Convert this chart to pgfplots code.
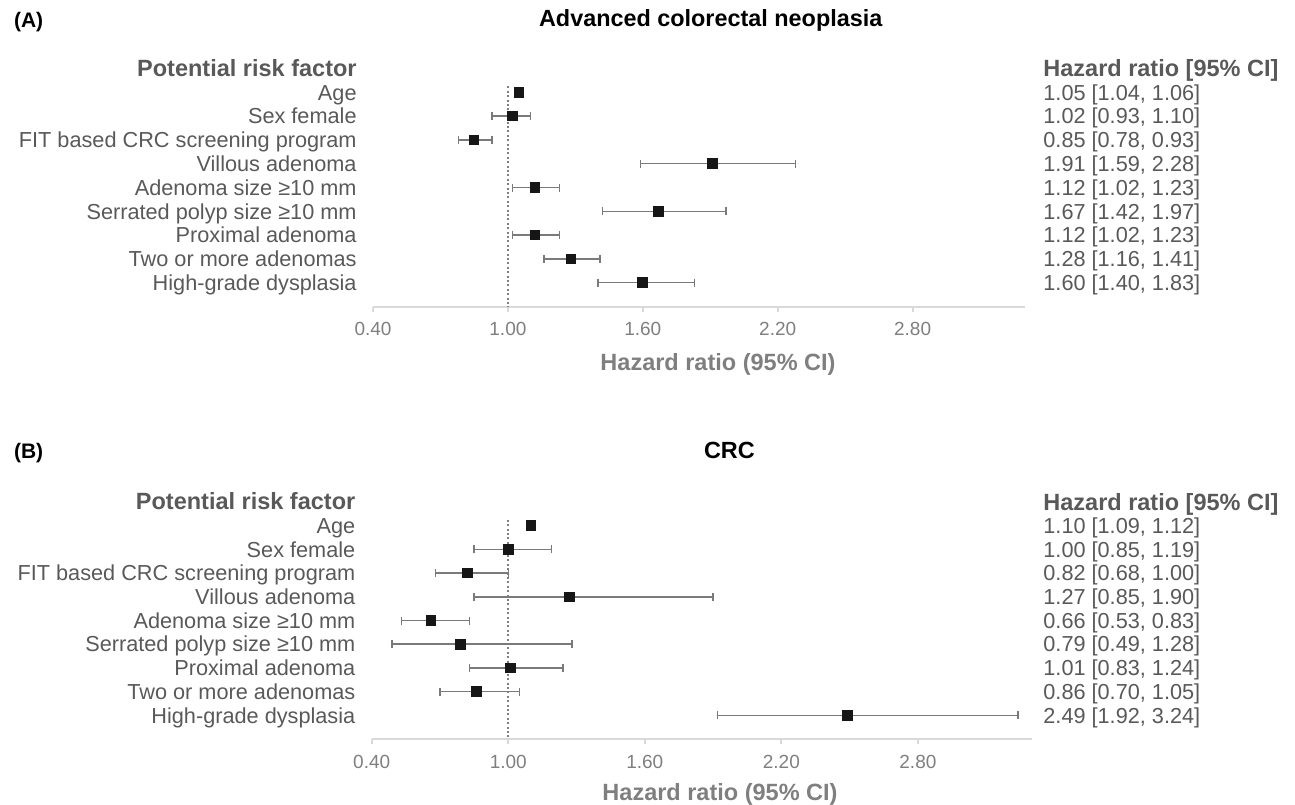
\documentclass[border=0pt]{standalone}
\usepackage{pgfplots}
\pgfplotsset{compat=1.18}
\usepackage{pgfplotstable}
\usepackage{fontspec}
\setmainfont{Liberation Sans}
\definecolor{lab}{HTML}{595959}
\definecolor{tck}{HTML}{7F7F7F}
\definecolor{axl}{HTML}{D9D9D9}
\definecolor{err}{HTML}{7A7A7A}
\definecolor{mk}{HTML}{161616}

\pgfplotstableread{
y hr lo hi
-1 1.05 1.04 1.06
-2 1.02 0.93 1.10
-3 0.85 0.78 0.93
-4 1.91 1.59 2.28
-5 1.12 1.02 1.23
-6 1.67 1.42 1.97
-7 1.12 1.02 1.23
-8 1.28 1.16 1.41
-9 1.60 1.40 1.83
}\dataA

\pgfplotstableread{
y hr lo hi
-1 1.10 1.09 1.12
-2 1.00 0.85 1.19
-3 0.82 0.68 1.00
-4 1.27 0.85 1.90
-5 0.66 0.53 0.83
-6 0.79 0.49 1.28
-7 1.01 0.83 1.24
-8 0.86 0.70 1.05
-9 2.49 1.92 3.24
}\dataB

\newcommand\hdrfont{\fontsize{11.75}{13}\selectfont\bfseries}
\newcommand\rowfont{\fontsize{10.85}{12}\selectfont}

\pgfplotsset{forest/.style={
  scale only axis,
  xmin=0.4, xmax=3.3, ymin=-10, ymax=0,
  axis x line*=bottom, axis y line*=left,
  x axis line style={draw=axl, line width=1pt, -},
  y axis line style={draw=none, -},
  xtick={0.4,1.0,1.6,2.2,2.8},
  xtick style={draw=axl, line width=1pt},
  ytick style={draw=none},
  tick align=outside, major tick length=2.5pt,
  ytick={0,-1,...,-9},
  yticklabel style={anchor=base east, inner sep=0pt, xshift=-5.5pt, yshift=-3.85pt, text=lab, font=\rowfont},
  xticklabel style={anchor=base, inner sep=0pt, yshift=-12.15pt, text=tck, font=\fontsize{9.5}{11}\selectfont},
  /pgf/number format/.cd, fixed, fixed zerofill, precision=2, assume math mode=true,
  /pgfplots/.cd,
  clip=false,
}}

\begin{document}
\begin{tikzpicture}
\path[use as bounding box] (0pt,0pt) rectangle (647.5pt,-402pt);

% ---------- Panel A ----------
\node[anchor=base west, font=\fontsize{10.5}{12}\selectfont\bfseries] at (3.5pt,-13.85pt) {(A)};
\node[anchor=base west, font=\fontsize{11.7}{14}\selectfont\bfseries] at (266pt,-13.4pt) {Advanced colorectal neoplasia};

\begin{axis}[forest, width=326pt, height=119pt,
  at={(186.5pt,-153.25pt)}, anchor=south west,
  yticklabels={{\hdrfont Potential risk factor}, Age, Sex female, FIT based CRC screening program, Villous adenoma, Adenoma size ≥10 mm, Serrated polyp size ≥10 mm, Proximal adenoma, Two or more adenomas, High-grade dysplasia}]
\addplot[draw=tck, line width=1pt, dash pattern=on 1pt off 1.2pt] coordinates {(1,-0.75) (1,-10)};
\addplot[only marks, mark=none,
  error bars/.cd, x dir=both, x explicit, error mark=|,
  error bar style={draw=err, line width=0.75pt},
  error mark options={draw=err, line width=0.75pt, mark size=2pt}]
  table[x=hr, y=y, x error plus expr=\thisrow{hi}-\thisrow{hr}, x error minus expr=\thisrow{hr}-\thisrow{lo}] {\dataA};
\addplot[only marks, mark=square*, mark size=2.4pt, mark options={fill=mk, draw=mk, line width=0pt}]
  table[x=hr, y=y] {\dataA};
\begin{scope}[every node/.style={anchor=base west, text=lab, font=\rowfont, inner sep=0pt, xshift=9pt, yshift=-3.85pt}]
\node[font=\hdrfont, yshift=-0.35pt] at (axis cs:3.3,0) {Hazard ratio [95\% CI]};
\node at (axis cs:3.3,-1) {1.05 [1.04, 1.06]};
\node at (axis cs:3.3,-2) {1.02 [0.93, 1.10]};
\node at (axis cs:3.3,-3) {0.85 [0.78, 0.93]};
\node at (axis cs:3.3,-4) {1.91 [1.59, 2.28]};
\node at (axis cs:3.3,-5) {1.12 [1.02, 1.23]};
\node at (axis cs:3.3,-6) {1.67 [1.42, 1.97]};
\node at (axis cs:3.3,-7) {1.12 [1.02, 1.23]};
\node at (axis cs:3.3,-8) {1.28 [1.16, 1.41]};
\node at (axis cs:3.3,-9) {1.60 [1.40, 1.83]};
\end{scope}
\end{axis}
\node[anchor=base, text=tck, font=\hdrfont] at (359pt,-185pt) {Hazard ratio (95\% CI)};

% ---------- Panel B ----------
\node[anchor=base west, font=\fontsize{10.5}{12}\selectfont\bfseries] at (3.5pt,-229pt) {(B)};
\node[anchor=base west, font=\fontsize{11.7}{14}\selectfont\bfseries] at (348.5pt,-229.1pt) {CRC};

\begin{axis}[forest, width=330pt, height=118.5pt,
  at={(185.85pt,-369.5pt)}, anchor=south west,
  yticklabels={{\hdrfont Potential risk factor}, Age, Sex female, FIT based CRC screening program\hspace{2.2pt}, Villous adenoma, Adenoma size ≥10 mm, Serrated polyp size ≥10 mm, Proximal adenoma, Two or more adenomas, High-grade dysplasia}]
\addplot[draw=tck, line width=1pt, dash pattern=on 1pt off 1.2pt] coordinates {(1,-0.75) (1,-10)};
\addplot[only marks, mark=none,
  error bars/.cd, x dir=both, x explicit, error mark=|,
  error bar style={draw=err, line width=0.75pt},
  error mark options={draw=err, line width=0.75pt, mark size=2pt}]
  table[x=hr, y=y, x error plus expr=\thisrow{hi}-\thisrow{hr}, x error minus expr=\thisrow{hr}-\thisrow{lo}] {\dataB};
\addplot[only marks, mark=square*, mark size=2.4pt, mark options={fill=mk, draw=mk, line width=0pt}]
  table[x=hr, y=y] {\dataB};
\begin{scope}[every node/.style={anchor=base west, text=lab, font=\rowfont, inner sep=0pt, xshift=5.65pt, yshift=-3.85pt}]
\node[font=\hdrfont, yshift=-0.35pt] at (axis cs:3.3,0) {Hazard ratio [95\% CI]};
\node at (axis cs:3.3,-1) {1.10 [1.09, 1.12]};
\node at (axis cs:3.3,-2) {1.00 [0.85, 1.19]};
\node at (axis cs:3.3,-3) {0.82 [0.68, 1.00]};
\node at (axis cs:3.3,-4) {1.27 [0.85, 1.90]};
\node at (axis cs:3.3,-5) {0.66 [0.53, 0.83]};
\node at (axis cs:3.3,-6) {0.79 [0.49, 1.28]};
\node at (axis cs:3.3,-7) {1.01 [0.83, 1.24]};
\node at (axis cs:3.3,-8) {0.86 [0.70, 1.05]};
\node at (axis cs:3.3,-9) {2.49 [1.92, 3.24]};
\end{scope}
\end{axis}
\node[anchor=base, text=tck, font=\hdrfont] at (360pt,-400pt) {Hazard ratio (95\% CI)};
\end{tikzpicture}
\end{document}
